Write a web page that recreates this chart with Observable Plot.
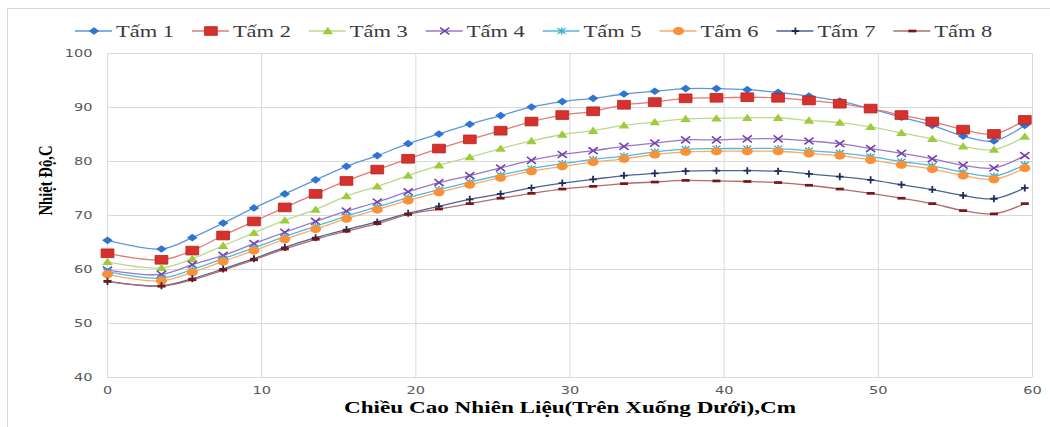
<!DOCTYPE html>
<html>
<head>
<meta charset="utf-8">
<script src="https://cdn.jsdelivr.net/npm/d3@7"></script>
<script src="https://cdn.jsdelivr.net/npm/@observablehq/plot@0.6"></script>
<style>
  html, body { margin: 0; padding: 0; background: #fff; }
  #chart { position: relative; width: 1050px; height: 427px; overflow: hidden; }
  #legend { display: block; }
  #chart > svg { display: block; }
  #frame { position: absolute; left: 7px; top: 8px; right: -4px; bottom: -4px;
           border-top: 1.5px solid #d9d9d9; border-left: 1.5px solid #d9d9d9; pointer-events: none; }
</style>
</head>
<body>
<div id="chart">
  <svg id="legend" width="1050" height="45"></svg>
  <div id="frame"></div>
</div>
<script>
// Fuel height positions (cm, measured from the top) and plate temperatures (°C)
const xs = [0, 3.5, 5.5, 7.5, 9.5, 11.5, 13.5, 15.5, 17.5, 19.5, 21.5, 23.5, 25.5, 27.5, 29.5,
            31.5, 33.5, 35.5, 37.5, 39.5, 41.5, 43.5, 45.5, 47.5, 49.5, 51.5, 53.5, 55.5, 57.5, 59.5];

const names = ["Tấm 1", "Tấm 2", "Tấm 3", "Tấm 4", "Tấm 5", "Tấm 6", "Tấm 7", "Tấm 8"];

const tam1 = [65.4, 63.8, 65.9, 68.6, 71.4, 74.0, 76.6, 79.1, 81.1, 83.3, 85.1, 86.9, 88.5, 90.1, 91.1,
              91.7, 92.5, 93.0, 93.5, 93.5, 93.3, 92.8, 92.1, 91.2, 89.8, 88.2, 86.7, 84.7, 83.8, 86.7];
const tam2 = [63.0, 61.8, 63.5, 66.3, 68.9, 71.5, 74.0, 76.4, 78.5, 80.5, 82.4, 84.1, 85.7, 87.4, 88.6,
              89.3, 90.5, 91.0, 91.7, 91.8, 91.9, 91.8, 91.3, 90.7, 89.8, 88.6, 87.4, 85.9, 85.1, 87.7];
const tam3 = [61.4, 60.3, 62.0, 64.4, 66.8, 69.1, 71.1, 73.6, 75.4, 77.4, 79.3, 80.8, 82.4, 83.8, 85.0,
              85.7, 86.7, 87.3, 87.9, 88.0, 88.1, 88.1, 87.6, 87.2, 86.4, 85.3, 84.2, 82.8, 82.2, 84.6];
const tam4 = [59.9, 59.1, 60.9, 62.6, 64.8, 66.9, 68.9, 70.8, 72.5, 74.4, 76.1, 77.4, 78.8, 80.2, 81.3,
              82.0, 82.8, 83.4, 84.0, 84.0, 84.2, 84.2, 83.8, 83.3, 82.4, 81.5, 80.5, 79.3, 78.8, 81.1];
const tam5 = [59.6, 58.4, 60.0, 62.0, 64.0, 66.1, 68.0, 69.9, 71.6, 73.3, 74.8, 76.2, 77.5, 78.7, 79.6,
              80.4, 81.0, 81.8, 82.3, 82.4, 82.4, 82.4, 82.0, 81.6, 80.9, 80.0, 79.2, 78.0, 77.3, 79.4];
const tam6 = [59.1, 57.9, 59.5, 61.5, 63.5, 65.6, 67.5, 69.4, 71.1, 72.8, 74.3, 75.7, 77.0, 78.2, 79.1,
              79.9, 80.5, 81.3, 81.8, 81.9, 81.9, 81.9, 81.5, 81.1, 80.3, 79.4, 78.6, 77.4, 76.7, 78.8];
const tam7 = [57.8, 57.0, 58.3, 60.1, 62.0, 64.1, 65.9, 67.4, 68.8, 70.4, 71.7, 73.0, 74.0, 75.1, 76.0,
              76.7, 77.4, 77.8, 78.2, 78.3, 78.3, 78.2, 77.7, 77.2, 76.6, 75.7, 74.8, 73.7, 73.1, 75.1];
const tam8 = [57.8, 56.9, 58.1, 59.9, 61.8, 63.8, 65.6, 67.1, 68.5, 70.2, 71.2, 72.2, 73.2, 74.1, 74.9,
              75.4, 75.9, 76.2, 76.5, 76.4, 76.3, 76.1, 75.6, 74.9, 74.1, 73.2, 72.2, 70.9, 70.3, 72.2];

const xTicks = [0, 10, 20, 30, 40, 50, 60];
const yTicks = [40, 50, 60, 70, 80, 90, 100];
const xTitle = "Chiều Cao Nhiên Liệu(Trên Xuống Dưới),Cm";
const yTitle = "Nhiệt Độ,C";

const series = [tam1, tam2, tam3, tam4, tam5, tam6, tam7, tam8];

// Long table for Plot
const rows = names.flatMap((name, i) => xs.map((x, j) => ({name, x, y: series[i][j]})));

// Office-style markers: slightly wider than tall
const K = 0.5523;
const rad = s => Math.sqrt(s / Math.PI);
const sym = {
  diamond: {draw(c, s) { const r = rad(s); c.moveTo(0, -0.72 * r); c.lineTo(r, 0); c.lineTo(0, 0.72 * r); c.lineTo(-r, 0); c.closePath(); }},
  square: {draw(c, s) { const r = rad(s); c.rect(-r, -0.68 * r, 2 * r, 1.36 * r); }},
  triangle: {draw(c, s) { const r = rad(s); c.moveTo(0, -0.78 * r); c.lineTo(r, 0.6 * r); c.lineTo(-r, 0.6 * r); c.closePath(); }},
  cross: {draw(c, s) { const r = rad(s); c.moveTo(-r, -0.75 * r); c.lineTo(r, 0.75 * r); c.moveTo(-r, 0.75 * r); c.lineTo(r, -0.75 * r); }},
  asterisk: {draw(c, s) { const r = rad(s); c.moveTo(-r, -0.7 * r); c.lineTo(r, 0.7 * r); c.moveTo(-r, 0.7 * r); c.lineTo(r, -0.7 * r); c.moveTo(0, -0.9 * r); c.lineTo(0, 0.9 * r); }},
  ellipse: {draw(c, s) { const a = rad(s), b = 0.74 * a;
    c.moveTo(a, 0); c.bezierCurveTo(a, K * b, K * a, b, 0, b); c.bezierCurveTo(-K * a, b, -a, K * b, -a, 0);
    c.bezierCurveTo(-a, -K * b, -K * a, -b, 0, -b); c.bezierCurveTo(K * a, -b, a, -K * b, a, 0); c.closePath(); }},
  plus: {draw(c, s) { const r = rad(s); c.moveTo(-r, 0); c.lineTo(r, 0); c.moveTo(0, -0.95 * r); c.lineTo(0, 0.95 * r); }},
  dash: {draw(c, s) { const r = rad(s); c.rect(-r, -0.34 * r, 2 * r, 0.68 * r); }}
};

const lineColors = ["#5b97dd", "#e07b78", "#b9da8c", "#9a78c6", "#52b8dd", "#f8aa6c", "#4d6391", "#b06c6c"];
const markers = [
  {symbol: sym.diamond,  r: 5.3, fill: "#2f74d3", stroke: "none"},
  {symbol: sym.square,   r: 6.4, fill: "#d7312d", stroke: "#b3231f", strokeWidth: 0.8},
  {symbol: sym.triangle, r: 5.3, fill: "#9ccb3b", stroke: "none"},
  {symbol: sym.cross,    r: 4.6, fill: "none", stroke: "#7442ae", strokeWidth: 1.6},
  {symbol: sym.asterisk, r: 4.0, fill: "none", stroke: "#34abd6", strokeWidth: 1.4},
  {symbol: sym.ellipse,  r: 5.5, fill: "#f79239", stroke: "none"},
  {symbol: sym.plus,     r: 3.7, fill: "none", stroke: "#1b2d5c", strokeWidth: 1.8},
  {symbol: sym.dash,     r: 4.0, fill: "#7b1616", stroke: "none"}
];

// Legend row
const leg = d3.select("#legend");
names.forEach((name, i) => {
  const x0 = 75 + i * 116.9, cy = 31;
  const g = leg.append("g").attr("transform", `translate(${x0},0)`);
  g.append("line").attr("x1", 0).attr("x2", 37).attr("y1", cy).attr("y2", cy)
    .attr("stroke", lineColors[i]).attr("stroke-width", 1.3);
  const m = markers[i];
  const p = d3.path();
  m.symbol.draw(p, m.r * m.r * Math.PI);
  g.append("path").attr("transform", `translate(19,${cy})`).attr("d", p.toString())
    .attr("fill", m.fill).attr("stroke", m.stroke).attr("stroke-width", m.strokeWidth || 1);
  g.append("text").attr("x", 41).attr("y", cy + 5.5)
    .attr("font-family", "'Liberation Serif', serif").attr("font-size", 17.5).attr("fill", "#3a3a3a")
    .attr("textLength", 58).attr("lengthAdjust", "spacingAndGlyphs").text(name);
});

const seriesMarks = names.flatMap((name, i) => {
  const d = rows.filter(r => r.name === name);
  return [
    Plot.line(d, {x: "x", y: "y", stroke: lineColors[i], strokeWidth: 1.3, curve: "catmull-rom"}),
    Plot.dot(d, {x: "x", y: "y", ...markers[i]})
  ];
});

const chart = Plot.plot({
  width: 1050,
  height: 382,
  marginLeft: 107,
  marginRight: 18,
  marginTop: 8,
  marginBottom: 50,
  style: {background: "transparent", overflow: "visible"},
  x: {domain: [0, 60], label: null},
  y: {domain: [40, 100], label: null},
  marks: [
    Plot.gridX(xTicks, {stroke: "#d9d9d9", strokeOpacity: 1, strokeWidth: 1}),
    Plot.gridY(yTicks, {stroke: "#d9d9d9", strokeOpacity: 1, strokeWidth: 1}),
    Plot.axisX(xTicks, {tickSize: 0, tickPadding: 9, fontSize: 10, fill: "#595959",
                        fontFamily: "DejaVu Sans", label: null}),
    Plot.axisY(yTicks, {tickSize: 0, tickPadding: 15, fontSize: 10, fill: "#595959",
                        fontFamily: "DejaVu Sans", label: null}),
    ...seriesMarks,
    Plot.text([xTitle], {text: d => d, frameAnchor: "bottom", dy: 35, fontSize: 17, fontWeight: "bold",
                         fontFamily: "Liberation Serif", fill: "#000"}),
    Plot.text([yTitle], {text: d => d, frameAnchor: "left", dx: -62, rotate: -90, fontSize: 15, fontWeight: "bold",
                         fontFamily: "Liberation Serif", fill: "#000"})
  ]
});

const host = document.getElementById("chart");
host.insertBefore(chart, document.getElementById("frame"));

// Wide lettering for tick labels and titles
const tickText = new Set([...xTicks, ...yTicks].map(String));
chart.querySelectorAll("text").forEach(t => {
  const s = t.textContent.trim();
  if (s === xTitle) {
    t.setAttribute("textLength", 452);
    t.setAttribute("lengthAdjust", "spacingAndGlyphs");
  } else if (s === yTitle) {
    t.setAttribute("textLength", 70);
    t.setAttribute("lengthAdjust", "spacingAndGlyphs");
    t.setAttribute("transform", (t.getAttribute("transform") || "") + " scale(1,1.3)");
  } else if (tickText.has(s)) {
    const w = t.getComputedTextLength();
    t.setAttribute("textLength", (w * 1.45).toFixed(1));
    t.setAttribute("lengthAdjust", "spacingAndGlyphs");
  }
});
</script>
</body>
</html>
